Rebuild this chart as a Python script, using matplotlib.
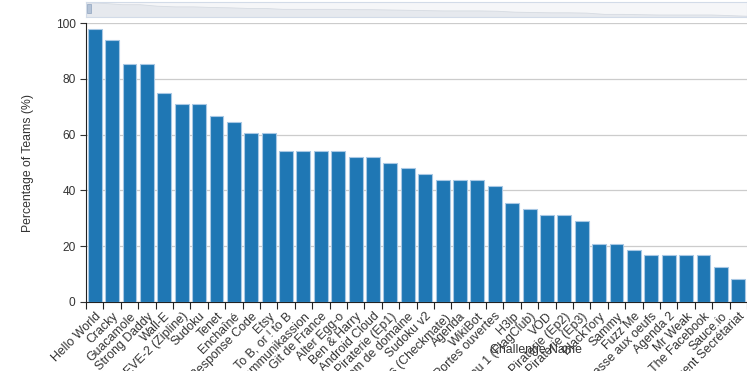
import numpy as np
import matplotlib
matplotlib.use("Agg")
import matplotlib.pyplot as plt

challenges = ["Hello World", "Cracky", "Guacamole", "Strong Daddy", "Wall-E",
              "EVE-2 (Zipline)", "Sudoku", "Tenet", "Enchaîné", "Response Code",
              "Etsy", "To B, or ! to B", "Kommunikassion", "Git de France",
              "Alter Egg-o", "Ben & Harry", "Android Cloud", "Piraterie (Ep1)",
              "Nom de domaine", "Sudoku v2", "Échecs (Checkmate)", "Agenda",
              "WikiBot", "Portes ouvertes", "H3lp", "Niveau 1 (FlagClub)", "VOD",
              "Piraterie (Ep2)", "Piraterie (Ep3)", "BlackTory", "Sammy", "Fuzz Me",
              "Chasse aux oeufs", "Agenda 2", "Mr Weak", "The Facebook", "Sauce.io",
              "Agent Secrétariat"]
pct_teams = [97.9, 93.8, 85.4, 85.4, 75.0, 70.8, 70.8, 66.7, 64.6, 60.4,
             60.4, 54.2, 54.2, 54.2, 54.2, 52.1, 52.1, 50.0, 47.9, 45.8,
             43.8, 43.8, 43.8, 41.7, 35.4, 33.3, 31.3, 31.3, 29.2, 20.8,
             20.8, 18.8, 16.7, 16.7, 16.7, 16.7, 12.5, 8.3]
yticks = [0, 20, 40, 60, 80, 100]

plt.rcParams['font.family'] = ['Liberation Sans', 'DejaVu Sans']

fig = plt.figure(figsize=(7.47, 3.71), dpi=100)
W, H = 747, 371

# main plot area
ax = fig.add_axes([86 / W, 1 - 302 / H, (747 - 86) / W, (302 - 23) / H])
x = np.arange(len(challenges))
ax.bar(x, pct_teams, width=0.8, color='#1f77b4', edgecolor='#a8c8e4', linewidth=0.8, zorder=3)
ax.set_xlim(-0.5, len(challenges) - 0.5)
ax.set_ylim(0, 100)
ax.set_yticks(yticks)
ax.tick_params(axis='y', labelsize=8.6, colors='#333333', length=4, width=0.8)
ax.grid(axis='y', color='#cccccc', linewidth=0.9, zorder=0)
for s in ['top', 'right']:
    ax.spines[s].set_visible(False)
ax.spines['left'].set_color('#222222')
ax.spines['bottom'].set_color('#222222')

# category labels, ticks between bars
ax.set_xticks(x)
ax.set_xticklabels(challenges, rotation=45, ha='right', rotation_mode='anchor',
                   fontsize=8.9, color='#333333')
ax.tick_params(axis='x', which='major', length=0, pad=6)
ax.set_xticks(np.arange(len(challenges) + 1) - 0.5, minor=True)
ax.tick_params(axis='x', which='minor', length=5, width=0.8, color='#222222')

ax.set_ylabel("Percentage of Teams (%)", fontsize=8.8, color='#333333')
ax.yaxis.set_label_coords(-0.078, 0.5)
ax.set_xlabel("Challenge Name", fontsize=8.8, color='#333333')
ax.xaxis.set_label_coords(0.68, -0.15)

# data zoom slider at the top
sl = fig.add_axes([86 / W, 1 - 17 / H, (747 - 86) / W, 15 / H])
sl.set_facecolor('#f5f6f8')
sl.fill_between(x, pct_teams, 0, color='#e6e9ee', linewidth=0.6, edgecolor='#d6dbe2')
sl.set_xlim(0, len(challenges) - 1)
sl.set_ylim(0, 100)
sl.set_xticks([])
sl.set_yticks([])
for s in sl.spines.values():
    s.set_color('#d2dbe8')
    s.set_linewidth(0.8)
sl.add_patch(plt.Rectangle((0.002, 0.3), 0.006, 0.55, transform=sl.transAxes,
                           facecolor='#b3c2d6', edgecolor='#8fa3bf', linewidth=0.5))

fig.savefig("out.png", dpi=100)
